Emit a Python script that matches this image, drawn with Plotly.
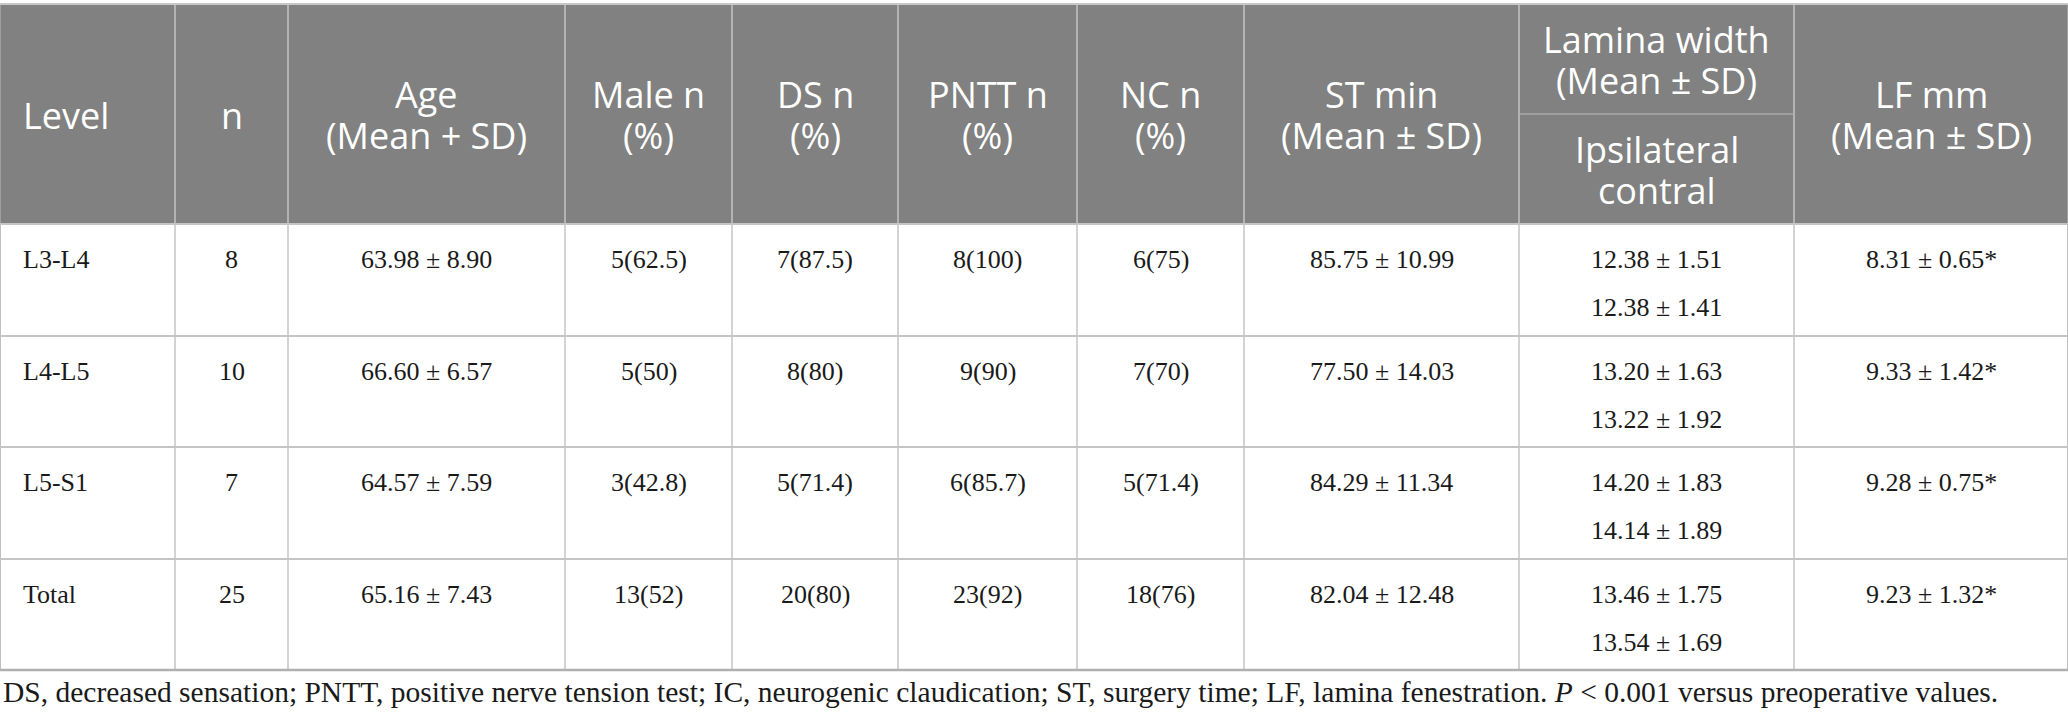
import plotly.graph_objects as go

# table contents
headers = [["Level"], ["n"], ["Age", "(Mean + SD)"], ["Male n", "(%)"], ["DS n", "(%)"], ["PNTT n", "(%)"],
           ["NC n", "(%)"], ["ST min", "(Mean ± SD)"], None, ["LF mm", "(Mean ± SD)"]]
lamina_top = ["Lamina width", "(Mean ± SD)"]
lamina_sub = ["Ipsilateral", "contral"]

levels = ["L3-L4", "L4-L5", "L5-S1", "Total"]
n_cases = ["8", "10", "7", "25"]
age = ["63.98 ± 8.90", "66.60 ± 6.57", "64.57 ± 7.59", "65.16 ± 7.43"]
male = ["5(62.5)", "5(50)", "3(42.8)", "13(52)"]
ds = ["7(87.5)", "8(80)", "5(71.4)", "20(80)"]
pntt = ["8(100)", "9(90)", "6(85.7)", "23(92)"]
nc = ["6(75)", "7(70)", "5(71.4)", "18(76)"]
st_min = ["85.75 ± 10.99", "77.50 ± 14.03", "84.29 ± 11.34", "82.04 ± 12.48"]
lamina_ipsi = ["12.38 ± 1.51", "13.20 ± 1.63", "14.20 ± 1.83", "13.46 ± 1.75"]
lamina_contra = ["12.38 ± 1.41", "13.22 ± 1.92", "14.14 ± 1.89", "13.54 ± 1.69"]
lf_mm = ["8.31 ± 0.65*", "9.33 ± 1.42*", "9.28 ± 0.75*", "9.23 ± 1.32*"]

footnote = ("DS, decreased sensation; PNTT, positive nerve tension test; IC, neurogenic claudication; "
            "ST, surgery time; LF, lamina fenestration. <i>P</i> < 0.001 versus preoperative values.")

# layout in pixels
W, H = 2068, 722
col_edges = [0, 175, 288, 565, 732, 898, 1077, 1244, 1519, 1794, 2068]
top, head_bot, sub_mid = 4, 224, 114
row_edges = [224, 336, 447, 559, 670]
LINE_GAP = 41

HEAD_BG = "#808180"
LINE = "#c4c4c4"
HEAD_FONT = dict(family="Open Sans, Noto Sans, sans-serif", size=36, color="white")
BODY_FONT = dict(family="Liberation Serif, DejaVu Serif, serif", size=26, color="#1a1a1a")

fig = go.Figure()
shapes = []
ann = []

shapes.append(dict(type="rect", x0=0, x1=W, y0=top, y1=head_bot, fillcolor=HEAD_BG,
                   line=dict(width=0), layer="below"))
for x in col_edges:
    shapes.append(dict(type="line", x0=x, x1=x, y0=top, y1=row_edges[-1],
                       line=dict(color="#a9aaa9" if x in (0, W) else LINE, width=1.5)))
shapes.append(dict(type="line", x0=col_edges[8], x1=col_edges[9], y0=sub_mid, y1=sub_mid,
                   line=dict(color="#a9aaa9", width=1.5)))
shapes.append(dict(type="line", x0=0, x1=W, y0=top, y1=top, line=dict(color="#c8c8c8", width=2)))
for i, y in enumerate(row_edges):
    last = i == len(row_edges) - 1
    shapes.append(dict(type="line", x0=0, x1=W, y0=y, y1=y,
                       line=dict(color="#b0b0b0" if last else LINE, width=2.5 if last else 2)))


def centre(i):
    return (col_edges[i] + col_edges[i + 1]) / 2


def header_lines(x, ymid, lines, anchor="center"):
    y0 = ymid - LINE_GAP * (len(lines) - 1) / 2
    for k, t in enumerate(lines):
        ann.append(dict(x=x, y=y0 + k * LINE_GAP, text=t, xanchor=anchor, font=HEAD_FONT))


# header text
for i, h in enumerate(headers):
    if h is None:
        continue
    if i == 0:
        header_lines(21, (top + head_bot) / 2 + 1, h, "left")
    else:
        header_lines(centre(i), (top + head_bot) / 2 + 1, h)
header_lines(centre(8), (top + sub_mid) / 2 + 1, lamina_top)
header_lines(centre(8), (sub_mid + head_bot) / 2 + 1, lamina_sub)

# body text
columns = [levels, n_cases, age, male, ds, pntt, nc, st_min, lamina_ipsi, lf_mm]
for r in range(len(levels)):
    y1 = row_edges[r] + 35
    for c, col in enumerate(columns):
        if c == 0:
            ann.append(dict(x=21, y=y1, text=col[r], xanchor="left", font=BODY_FONT))
        else:
            ann.append(dict(x=centre(c), y=y1, text=col[r], xanchor="center", font=BODY_FONT))
    ann.append(dict(x=centre(8), y=row_edges[r] + 83, text=lamina_contra[r], xanchor="center", font=BODY_FONT))

ann.append(dict(x=1, y=692, text=footnote, xanchor="left",
                font=dict(family="Liberation Serif, DejaVu Serif, serif", size=29.5, color="#1a1a1a")))

for a in ann:
    a.update(xref="x", yref="y", showarrow=False, yanchor="middle")

fig.update_layout(
    width=W, height=H,
    margin=dict(l=0, r=0, t=0, b=0),
    paper_bgcolor="white", plot_bgcolor="white",
    xaxis=dict(range=[0, W], visible=False, fixedrange=True),
    yaxis=dict(range=[H, 0], visible=False, fixedrange=True),
    shapes=shapes, annotations=ann, showlegend=False,
)

fig.write_html("out.html", config={"displayModeBar": False},
               post_script="document.body.style.margin='0';")
